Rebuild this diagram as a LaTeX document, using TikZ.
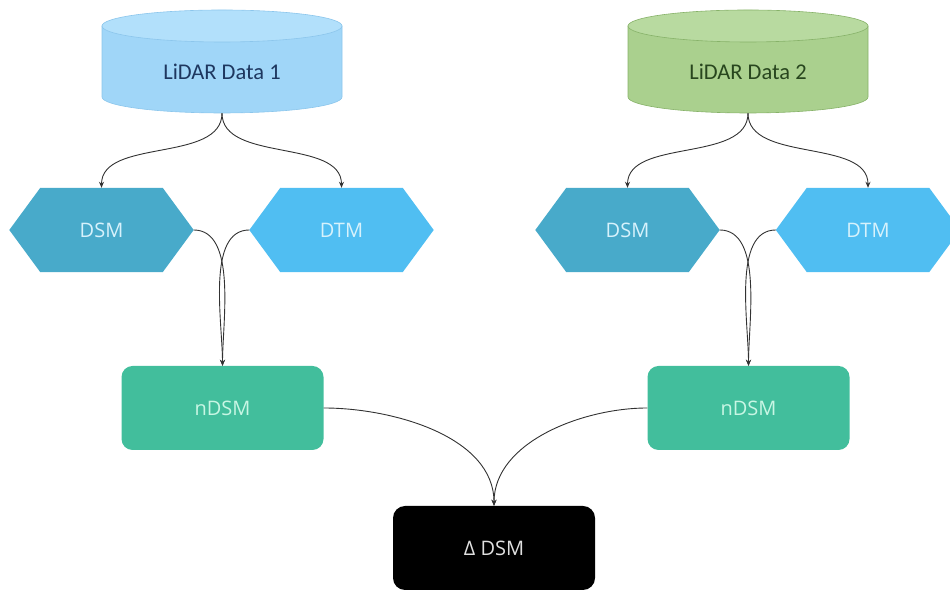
\documentclass[tikz,border=0pt]{standalone}
\usepackage{fontspec}
\setmainfont{Open Sans}
\newfontfamily\calfont{Carlito}
\usetikzlibrary{arrows.meta,backgrounds}
\definecolor{cylAbody}{RGB}{160,214,248}
\definecolor{cylAtop}{RGB}{178,224,251}
\definecolor{cylAedge}{RGB}{140,198,236}
\definecolor{cylAtext}{RGB}{30,55,95}
\definecolor{cylBbody}{RGB}{170,208,142}
\definecolor{cylBtop}{RGB}{184,218,160}
\definecolor{cylBedge}{RGB}{135,178,105}
\definecolor{cylBtext}{RGB}{40,70,30}
\definecolor{dsmfill}{RGB}{72,170,202}
\definecolor{dtmfill}{RGB}{80,190,242}
\definecolor{hextext}{RGB}{215,242,252}
\definecolor{ndsmfill}{RGB}{66,190,156}
\definecolor{ndsmtext}{RGB}{200,246,228}
\definecolor{conn}{RGB}{50,50,50}
\tikzset{
  cyltext/.style={font=\calfont\fontsize{22.5}{26}\selectfont, minimum width=240pt, minimum height=82pt, inner sep=0pt},
  hexlabel/.style={font=\fontsize{20}{24}\selectfont, text=hextext, minimum width=184pt, minimum height=84pt, inner sep=0pt},
  ndsmbox/.style={fill=ndsmfill, rounded corners=11pt, text=ndsmtext, font=\fontsize{20}{24}\selectfont, minimum width=202pt, minimum height=84pt, inner sep=0pt},
  deltabox/.style={fill=black, rounded corners=12pt, text=white!88!black, font=\fontsize{20}{24}\selectfont, minimum width=202pt, minimum height=84pt, inner sep=0pt},
  link/.style={draw=conn, line width=0.9pt, -{Stealth[length=6pt,width=5pt]}},
}
\begin{document}
\begin{tikzpicture}[x=1pt,y=1pt]
\useasboundingbox (0,0) rectangle (950,593);
% cylinders
\fill[cylAbody, draw=cylAedge, line width=0.6pt] (102,567) -- (102,496) arc[start angle=180,end angle=360,x radius=120,y radius=16] -- (342,567) -- cycle;
\filldraw[fill=cylAtop, draw=cylAedge, line width=0.6pt] (222,567) ellipse [x radius=120, y radius=16];
\node[cyltext, text=cylAtext] (c1) at (222,521) {LiDAR Data 1};
\fill[cylBbody, draw=cylBedge, line width=0.6pt] (628,567) -- (628,496) arc[start angle=180,end angle=360,x radius=120,y radius=16] -- (868,567) -- cycle;
\filldraw[fill=cylBtop, draw=cylBedge, line width=0.6pt] (748,567) ellipse [x radius=120, y radius=16];
\node[cyltext, text=cylBtext] (c2) at (748,521) {LiDAR Data 2};
% hexagons
\foreach \nm/\cx/\col/\txt in {dsmA/101.5/dsmfill/DSM, dtmA/341.5/dtmfill/DTM, dsmB/627.5/dsmfill/DSM, dtmB/868/dtmfill/DTM}{
  \node[hexlabel] (\nm) at (\cx,363) {\txt};
  \begin{pgfonlayer}{background}
  \fill[\col] (\nm.west) -- ([xshift=31pt]\nm.north west) -- ([xshift=-31pt]\nm.north east) -- (\nm.east) -- ([xshift=-31pt]\nm.south east) -- ([xshift=31pt]\nm.south west) -- cycle;
  \end{pgfonlayer}
}
% nDSM boxes
\node[ndsmbox] (nA) at (222.5,185) {nDSM};
\node[ndsmbox] (nB) at (748.5,185) {nDSM};
% delta
\node[deltabox] (dd) at (494,45) {Δ DSM};
% connectors
\draw[link] (c1.south) to[out=-90,in=90,looseness=0.9] (dsmA.north);
\draw[link] (c1.south) to[out=-90,in=90,looseness=0.9] (dtmA.north);
\draw[link] (c2.south) to[out=-90,in=90,looseness=0.9] (dsmB.north);
\draw[link] (c2.south) to[out=-90,in=90,looseness=0.9] (dtmB.north);
\draw[link] (dsmA.east) to[out=0,in=90,looseness=0.8] (nA.north);
\draw[link] (dtmA.west) to[out=180,in=90,looseness=0.8] (nA.north);
\draw[link] (dsmB.east) to[out=0,in=90,looseness=0.8] (nB.north);
\draw[link] (dtmB.west) to[out=180,in=90,looseness=0.8] (nB.north);
\draw[link] (nA.east) to[out=0,in=90,looseness=0.9] (dd.north);
\draw[link] (nB.west) to[out=180,in=90,looseness=0.9] (dd.north);
\end{tikzpicture}
\end{document}
